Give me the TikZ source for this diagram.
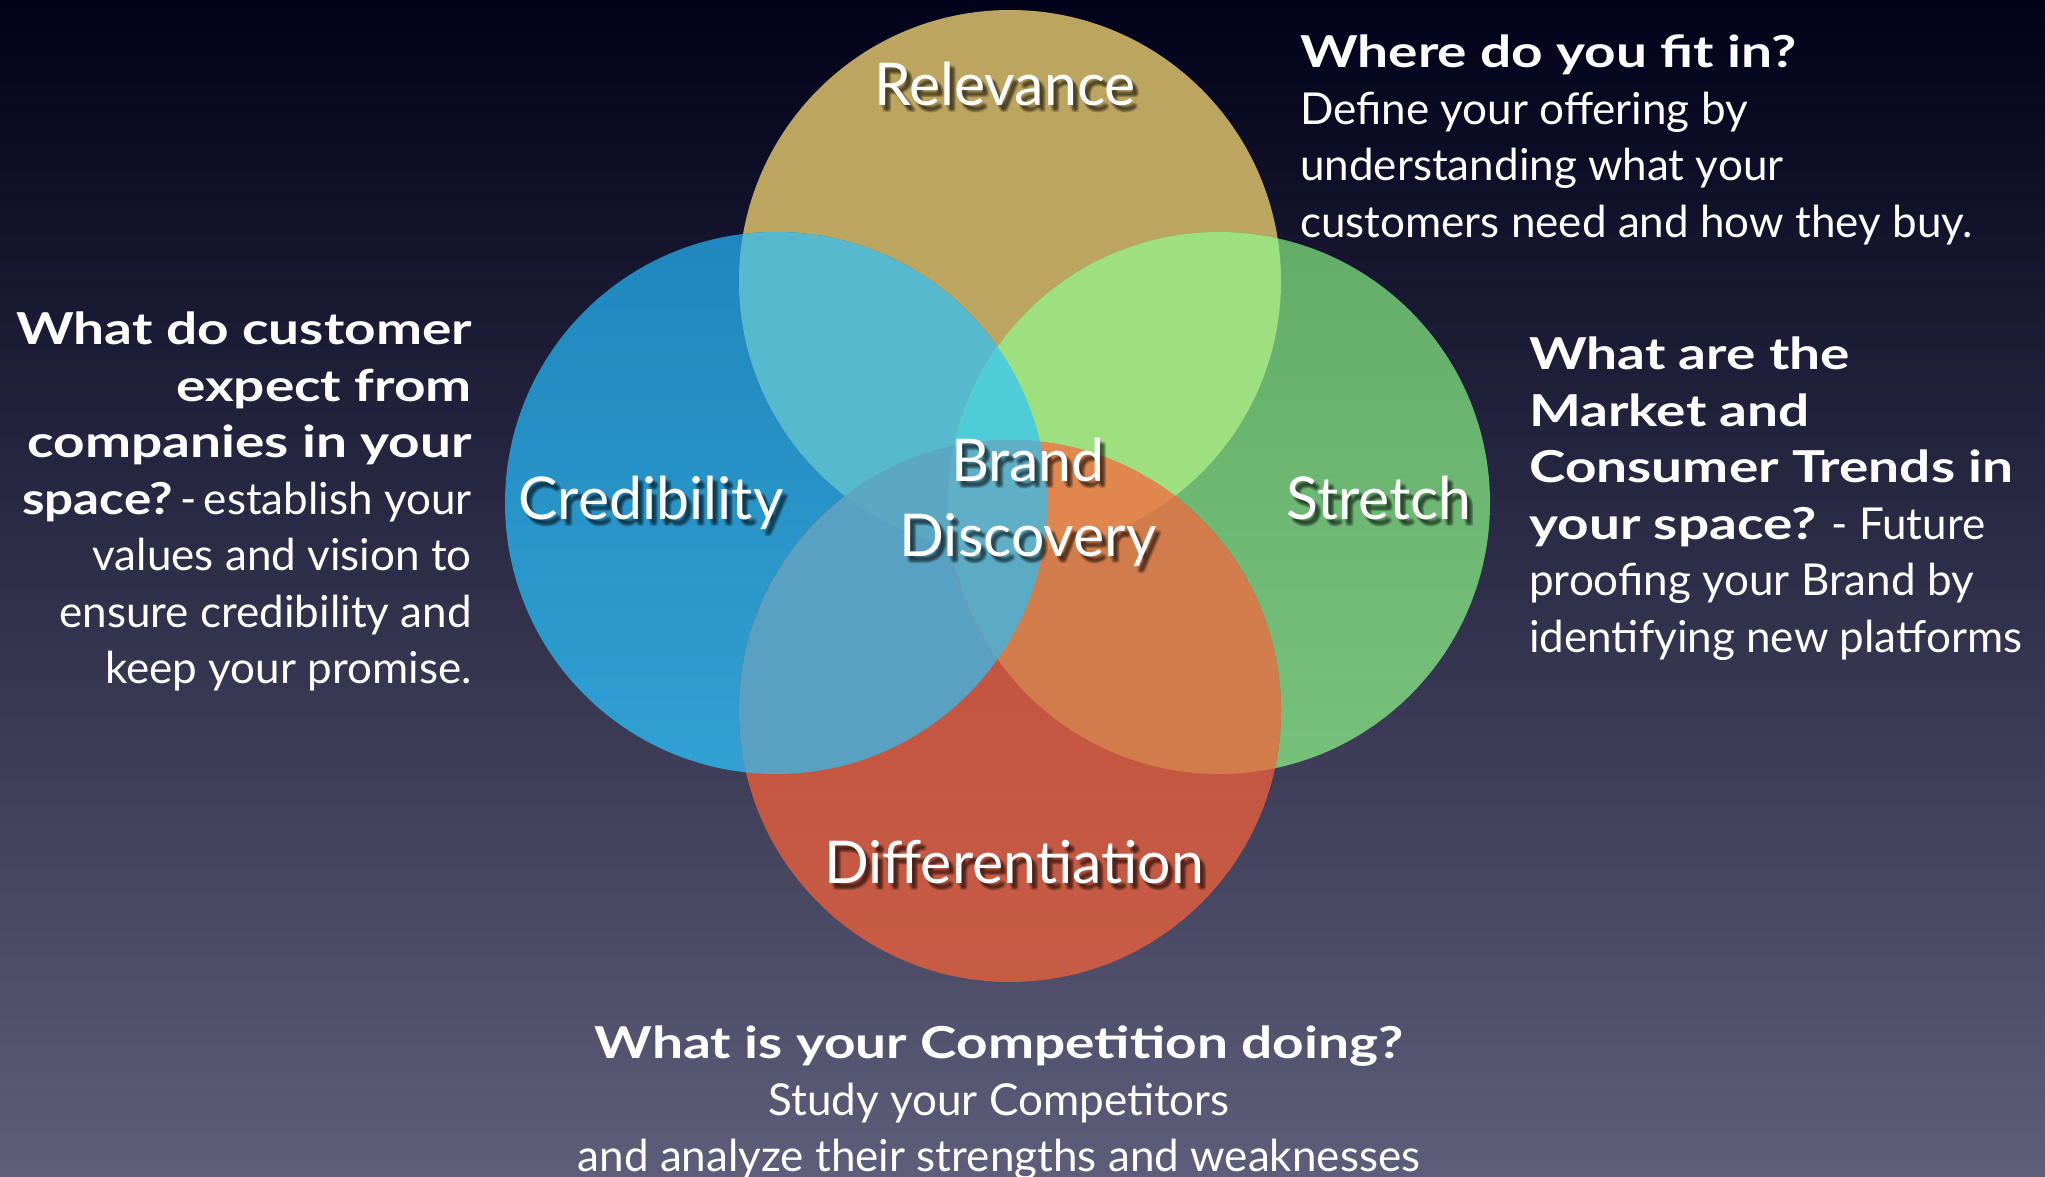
\documentclass[tikz,border=0pt]{standalone}
\usepackage{graphicx}
\usepackage{fontspec}
\setmainfont{Lato}[BoldFeatures={FakeStretch=1.25}]
\usetikzlibrary{calc}

% background and circle colours
\definecolor{bgtop}{HTML}{01011A}
\definecolor{bgmid}{HTML}{2B2B48}
\definecolor{bgbot}{HTML}{5F5E7A}
\definecolor{relcol}{HTML}{BCA55F}
\definecolor{credtop}{HTML}{1F87BD}
\definecolor{credbot}{HTML}{31A0D3}
\definecolor{strtop}{HTML}{62AE69}
\definecolor{strbot}{HTML}{77C17B}
\definecolor{diftop}{HTML}{C24F3D}
\definecolor{difbot}{HTML}{C75C45}
% overlap colours
\definecolor{ovrc}{HTML}{56B9CD}
\definecolor{ovrs}{HTML}{9EE07F}
\definecolor{ovcd}{HTML}{59A1C2}
\definecolor{ovsd}{HTML}{D27C4B}
\definecolor{ovrcs}{HTML}{4ECCD8}
\definecolor{ovrcd}{HTML}{5BA8C5}
\definecolor{ovrsd}{HTML}{DF874F}
\definecolor{ovcsd}{HTML}{5CABC4}
\definecolor{ovall}{HTML}{5FB0C7}

% white label with a soft, blurred dark drop shadow
\newcommand\shadowlabel[3]{%
  \foreach \dx/\dy [count=\k] in {2/3,4/5,6/7,3/6,5/4,6/5,4/7,5/6}{
    \node[lbl, text=black, opacity=0.11] (#1-sh\k)
      at ([xshift=\dx pt, yshift=-\dy pt]#2) {#3};
  }
  \node[lbl] (#1) at (#2) {#3};
}

\begin{document}
\begin{tikzpicture}[x=1pt,y=-1pt,
  lbl/.style={text=white, font=\fontsize{59}{61}\selectfont, inner sep=0pt, anchor=base},
  body/.style={text=white, font=\fontsize{44}{56.5}\selectfont, inner sep=0pt},
]
\useasboundingbox (0,0) rectangle (2045,1177);
\begin{scope}
\clip (0,0) rectangle (2045,1177);

% backdrop
\shade[top color=bgtop, middle color=bgmid, bottom color=bgbot]
  (0,0) rectangle (2045,1177);

% circle centres
\def\R{271pt}
\coordinate (rel)  at (1010,281);
\coordinate (cred) at (776,503);
\coordinate (str)  at (1219,503);
\coordinate (dif)  at (1010,711);

% base discs
\fill[relcol] (rel) circle[radius=\R];
\shade[top color=credtop, bottom color=credbot] (cred) circle[radius=\R];
\shade[top color=strtop, bottom color=strbot] (str) circle[radius=\R];
\shade[top color=diftop, bottom color=difbot] (dif) circle[radius=\R];

% pairwise overlaps
\begin{scope}\clip (rel) circle[radius=\R]; \fill[ovrc] (cred) circle[radius=\R];\end{scope}
\begin{scope}\clip (rel) circle[radius=\R]; \fill[ovrs] (str) circle[radius=\R];\end{scope}
\begin{scope}\clip (dif) circle[radius=\R]; \fill[ovcd] (cred) circle[radius=\R];\end{scope}
\begin{scope}\clip (dif) circle[radius=\R]; \fill[ovsd] (str) circle[radius=\R];\end{scope}

% triple overlaps
\begin{scope}\clip (rel) circle[radius=\R]; \clip (cred) circle[radius=\R];
  \fill[ovrcs] (str) circle[radius=\R];\end{scope}
\begin{scope}\clip (rel) circle[radius=\R]; \clip (cred) circle[radius=\R];
  \fill[ovrcd] (dif) circle[radius=\R];\end{scope}
\begin{scope}\clip (rel) circle[radius=\R]; \clip (str) circle[radius=\R];
  \fill[ovrsd] (dif) circle[radius=\R];\end{scope}
\begin{scope}\clip (cred) circle[radius=\R]; \clip (str) circle[radius=\R];
  \fill[ovcsd] (dif) circle[radius=\R];\end{scope}

% centre where all four meet
\begin{scope}\clip (rel) circle[radius=\R]; \clip (cred) circle[radius=\R];
  \clip (str) circle[radius=\R]; \fill[ovall] (dif) circle[radius=\R];\end{scope}

% circle labels
\coordinate (p-rel)  at (1005,106);
\coordinate (p-cred) at (651,519);
\coordinate (p-str)  at (1379,519);
\coordinate (p-br)   at (1028,481);
\coordinate (p-disc) at (1028,556);
\coordinate (p-dif)  at (1014,883);
\shadowlabel{relevance}{p-rel}{Relevance}
\shadowlabel{credibility}{p-cred}{Credibility}
\shadowlabel{stretch}{p-str}{Stretch}
\shadowlabel{brand}{p-br}{Brand}
\shadowlabel{discovery}{p-disc}{Discovery}
\shadowlabel{differentiation}{p-dif}{Differentiation}

% explanatory text
\node[body, align=left, anchor=north west] (fitin) at (1300,35)
  {\textbf{Where do you fit in?}\\
   Define your offering by\\
   understanding what your\\
   customers need and how they buy.};

\node[body, align=right, anchor=north east] (expect) at (472,312)
  {\textbf{What do customer}\\
   \textbf{expect from}\\
   \textbf{companies in your}\\
   \scalebox{0.93}[1]{\textbf{space?}}\hspace{0.16em}-\hspace{0.16em}establish your\\
   values and vision to\\
   ensure credibility and\\
   keep your promise.};

\node[body, align=left, anchor=north west] (trends) at (1529,337)
  {\textbf{What are the}\\
   \textbf{Market and}\\
   \textbf{Consumer Trends in}\\
   \textbf{your space?} - Future\\
   proofing your Brand by\\
   identifying new platforms};

\node[body, align=center, anchor=north] (competition) at (999,1026)
  {\textbf{What is your Competition doing?}\\
   Study your Competitors\\
   and analyze their strengths and weaknesses};
\end{scope}
\end{tikzpicture}
\end{document}
